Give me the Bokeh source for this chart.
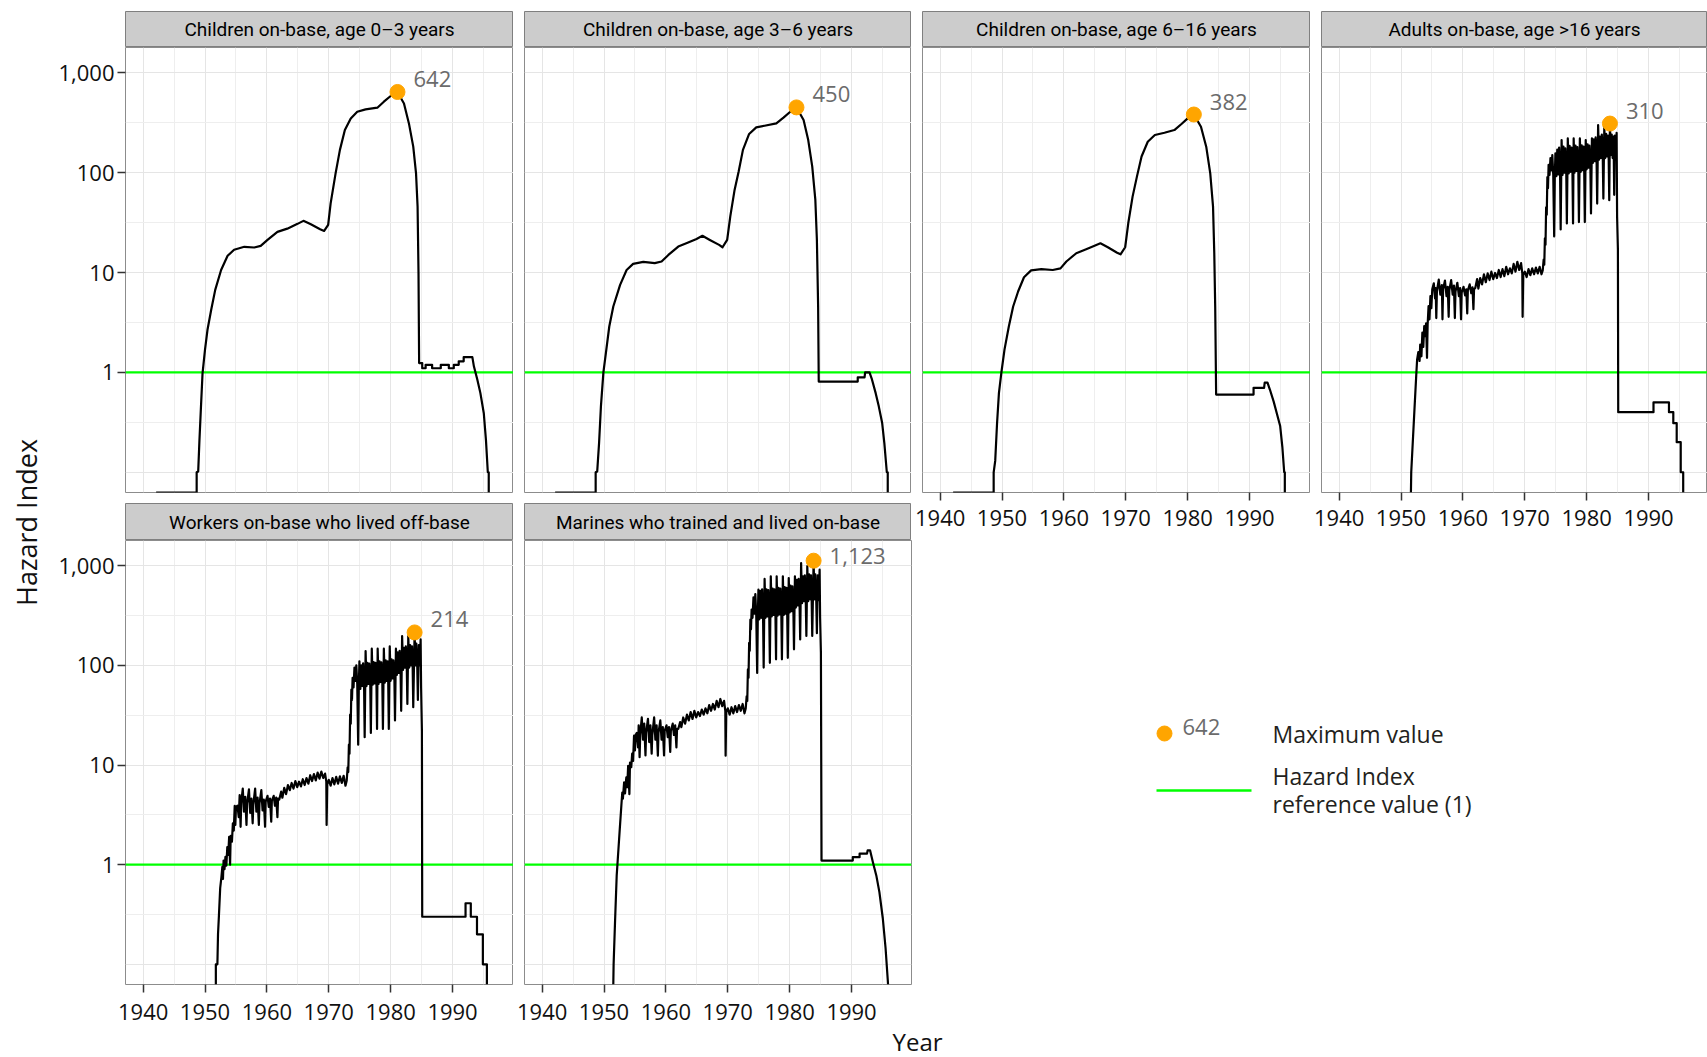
import math
from bokeh.plotting import figure
from bokeh.models import (Range1d, FixedTicker, Grid, LinearAxis, LogAxis,
                          NumeralTickFormatter, Span, Title)
from bokeh.layouts import row, column
from bokeh.core.properties import value
from bokeh.embed import file_html
from bokeh.resources import INLINE

# ------------------------------------------------------------------ data
PANEL_TITLES = [
    "Children on-base, age 0\u20133 years",
    "Children on-base, age 3\u20136 years",
    "Children on-base, age 6\u201316 years",
    "Adults on-base, age >16 years",
    "Workers on-base who lived off-base",
    "Marines who trained and lived on-base",
]
X_TICKS = [1940, 1950, 1960, 1970, 1980, 1990]
X_MINOR = [1945, 1955, 1965, 1975, 1985, 1995]
Y_TICKS = [1, 10, 100, 1000]
Y_GRID_MAJOR = [0.1, 1, 10, 100, 1000]
Y_GRID_MINOR = [0.316, 3.16, 31.6, 316]
REF_VALUE = 1

MAX_YEARS = [1981.1, 1981.1, 1981.0, 1983.76, 1983.87, 1983.87]
MAX_VALUES = [642, 450, 382, 310, 214, 1123]
MAX_LABELS = ["642", "450", "382", "310", "214", "1,123"]

# (year, hazard index); 0 = below the scale (drawn on the lower edge)
CHILD_0_3 = [
    (1942.1, 0), (1948.65, 0), (1948.65, 0.10), (1948.9, 0.102), (1949.1, 0.21),
    (1949.35, 0.46), (1949.6, 0.98), (1950.0, 1.69), (1950.4, 2.67), (1951.0, 4.24),
    (1951.65, 6.7), (1952.6, 10.6), (1953.65, 14.7), (1954.7, 16.9), (1956.35, 18.1),
    (1957.95, 17.8), (1959.0, 18.5), (1960.1, 21.2), (1961.7, 25.5), (1963.3, 27.5),
    (1964.95, 30.7), (1965.9, 32.9), (1967.1, 30.4), (1968.6, 27.1), (1969.25, 26.1),
    (1969.9, 30.0), (1970.3, 49.3), (1971.1, 98.4), (1971.8, 169), (1972.6, 267),
    (1973.55, 349), (1974.6, 407), (1975.95, 430), (1977.85, 447), (1978.9, 513),
    (1980.0, 585), (1981.1, 642), (1982.15, 493), (1982.95, 311), (1983.65, 182),
    (1984.1, 98.4), (1984.35, 45.7), (1984.5, 9.8), (1984.6, 1.24), (1985.1, 1.24),
    (1985.1, 1.10), (1985.65, 1.10), (1985.65, 1.19), (1986.7, 1.19), (1986.7, 1.10),
    (1988.1, 1.10), (1988.1, 1.19), (1989.4, 1.19), (1989.4, 1.10), (1990.2, 1.10),
    (1990.2, 1.19), (1991.0, 1.19), (1991.0, 1.29), (1991.8, 1.29), (1991.8, 1.42),
    (1993.2, 1.42), (1993.45, 1.15), (1994.0, 0.85), (1994.5, 0.62), (1995.05, 0.39),
    (1995.4, 0.21), (1995.7, 0.10), (1995.85, 0.10), (1995.85, 0),
]
CHILD_3_6 = [
    (1942.1, 0), (1948.65, 0), (1948.65, 0.10), (1948.9, 0.102), (1949.2, 0.196),
    (1949.5, 0.457), (1949.9, 1.0), (1950.3, 1.56), (1950.85, 2.88), (1951.5, 4.57),
    (1952.6, 7.53), (1953.65, 10.6), (1954.7, 12.2), (1956.35, 12.8), (1958.2, 12.4),
    (1959.3, 12.9), (1960.4, 15.0), (1962.0, 18.2), (1963.6, 20.0), (1964.95, 21.7),
    (1965.9, 23.3), (1967.1, 21.2), (1968.6, 18.9), (1969.15, 17.9), (1969.9, 21.2),
    (1970.4, 36.3), (1971.1, 67.1), (1971.75, 102), (1972.45, 169), (1973.45, 244),
    (1974.6, 284), (1975.95, 295), (1977.85, 311), (1979.0, 355), (1980.1, 407),
    (1981.1, 450), (1982.25, 337), (1983.0, 212), (1983.65, 115), (1984.15, 53.3),
    (1984.4, 21.2), (1984.6, 4.57), (1984.7, 0.81), (1991.0, 0.81), (1991.0, 0.89),
    (1992.1, 0.89), (1992.2, 1.0), (1992.9, 1.0), (1993.3, 0.85), (1993.9, 0.62),
    (1994.4, 0.457), (1994.95, 0.311), (1995.3, 0.196), (1995.7, 0.10), (1995.85, 0.10),
    (1995.85, 0),
]
CHILD_6_16 = [
    (1942.1, 0), (1948.65, 0), (1948.65, 0.10), (1948.9, 0.13), (1949.2, 0.311),
    (1949.5, 0.621), (1949.9, 1.0), (1950.4, 1.69), (1951.1, 2.88), (1951.8, 4.57),
    (1952.6, 6.46), (1953.55, 8.97), (1954.7, 10.5), (1956.35, 10.8), (1958.2, 10.6),
    (1959.45, 11.0), (1960.4, 12.9), (1962.0, 15.6), (1963.6, 17.1), (1964.95, 18.5),
    (1965.9, 19.6), (1967.1, 17.9), (1968.6, 15.8), (1969.15, 15.2), (1969.9, 17.9),
    (1970.4, 31.1), (1971.1, 57.5), (1971.8, 91.2), (1972.55, 145), (1973.55, 204),
    (1974.7, 238), (1976.25, 251), (1977.85, 267), (1979.0, 307), (1980.0, 349),
    (1981.0, 382), (1982.15, 288), (1983.0, 182), (1983.65, 98.4), (1984.1, 45.7),
    (1984.3, 15.6), (1984.45, 4.57), (1984.6, 0.60), (1990.65, 0.60), (1990.65, 0.70),
    (1992.35, 0.70), (1992.45, 0.79), (1992.9, 0.79), (1993.3, 0.67), (1993.9, 0.51),
    (1994.4, 0.39), (1994.95, 0.29), (1995.3, 0.18), (1995.6, 0.10), (1995.7, 0.10),
    (1995.7, 0),
]
ADULTS = [
    (1951.6, 0), (1951.65, 0.10), (1951.9, 0.20), (1952.2, 0.46), (1952.45, 0.91),
    (1952.6, 1.34), (1952.8, 1.6), (1953.0, 1.3), (1953.1, 1.9), (1953.3, 1.45),
    (1953.45, 2.5), (1953.6, 1.8), (1953.75, 2.9), (1953.9, 2.3), (1954.05, 3.1),
    (1954.2, 1.4), (1954.3, 3.0), (1954.45, 4.6), (1954.6, 3.4), (1954.75, 5.8),
    (1954.9, 4.4), (1955.05, 6.8),
    (1955.3, 7.8), (1955.5, 5.5), (1955.6, 7.0), (1955.7, 3.5), (1955.8, 6.5),
    (1956.1, 8.5), (1956.35, 6.0), (1956.6, 7.5), (1956.7, 3.4), (1956.8, 6.8),
    (1957.1, 8.3), (1957.35, 5.8), (1957.55, 7.2), (1957.7, 3.6), (1957.8, 6.6),
    (1958.1, 8.4), (1958.35, 6.0), (1958.55, 7.4), (1958.7, 3.5), (1958.8, 6.4),
    (1959.1, 7.9), (1959.35, 5.8), (1959.55, 7.0), (1959.7, 3.4), (1959.8, 6.3),
    (1960.1, 7.2), (1960.35, 5.9), (1960.55, 6.8), (1960.7, 3.9), (1960.8, 6.6),
    (1961.1, 7.6), (1961.35, 6.2), (1961.55, 7.1), (1961.7, 4.3), (1961.8, 6.8),
    (1962.0, 7.0), (1962.3, 8.6), (1962.5, 6.9), (1962.8, 8.8), (1963.1, 7.6),
    (1963.4, 9.6), (1963.7, 8.0), (1964.0, 9.8), (1964.3, 8.4), (1964.6, 10.2),
    (1964.9, 8.6), (1965.2, 9.9), (1965.5, 8.8), (1965.8, 10.6), (1966.1, 9.0),
    (1966.4, 10.8), (1966.7, 9.2), (1967.0, 11.4), (1967.3, 9.6), (1967.6, 11.0),
    (1967.9, 9.8), (1968.2, 12.2), (1968.5, 10.2), (1968.8, 12.8), (1969.1, 10.6),
    (1969.4, 12.4), (1969.6, 9.8), (1969.65, 3.6), (1969.75, 9.5), (1970.0, 10.2),
    (1970.3, 9.0), (1970.6, 10.8), (1970.9, 9.4), (1971.2, 11.0), (1971.5, 9.6),
    (1971.8, 11.2), (1972.1, 9.8), (1972.4, 11.4), (1972.7, 9.6), (1972.9, 10.5),
    (1973.05, 13.5), (1973.15, 12.0), (1973.25, 22), (1973.35, 19), (1973.45, 45),
    (1973.55, 38), (1973.65, 90), (1973.75, 70), (1973.85, 120), (1974.0, 95),
    (1974.15, 140), (1974.3, 105), (1974.45, 150), (1974.6, 95), (1974.75, 23),
    (1974.85, 90), (1974.95, 156),
    (1975.1, 92), (1975.25, 170), (1975.4, 96), (1975.55, 178), (1975.7, 100), (1975.8, 27), (1975.95, 212),
    (1976.1, 95), (1976.25, 182), (1976.4, 100), (1976.55, 175), (1976.7, 104), (1976.8, 31), (1976.95, 220),
    (1977.1, 98), (1977.25, 185), (1977.4, 102), (1977.55, 178), (1977.7, 105), (1977.8, 31), (1977.9, 220),
    (1978.05, 100), (1978.2, 186), (1978.35, 104), (1978.5, 180), (1978.65, 108), (1978.75, 32), (1978.9, 220),
    (1979.05, 102), (1979.2, 188), (1979.35, 106), (1979.5, 182), (1979.6, 110), (1979.7, 32), (1979.85, 212),
    (1980.0, 108), (1980.15, 192), (1980.3, 112), (1980.45, 186), (1980.6, 116), (1980.7, 39), (1980.85, 220),
    (1981.0, 125), (1981.15, 215), (1981.3, 130), (1981.45, 225), (1981.6, 135), (1981.7, 49), (1981.85, 300),
    (1982.0, 135), (1982.15, 230), (1982.3, 140), (1982.45, 240), (1982.6, 145), (1982.7, 55), (1982.85, 290),
    (1983.0, 140), (1983.15, 245), (1983.3, 145), (1983.45, 235), (1983.55, 150), (1983.65, 53), (1983.76, 310),
    (1983.9, 150), (1984.05, 240), (1984.2, 140), (1984.35, 230), (1984.45, 60), (1984.55, 235),
    (1984.7, 150), (1984.84, 250), (1984.92, 36), (1985.05, 17), (1985.1, 0.40),
    (1990.8, 0.40), (1990.8, 0.50), (1993.3, 0.50), (1993.3, 0.40), (1994.0, 0.40),
    (1994.0, 0.31), (1994.55, 0.31), (1994.55, 0.20), (1995.2, 0.20), (1995.2, 0.10),
    (1995.6, 0.10), (1995.6, 0),
]
WORKERS = [
    (1951.75, 0), (1951.75, 0.10), (1952.0, 0.10), (1952.1, 0.20), (1952.25, 0.31),
    (1952.45, 0.58), (1952.65, 0.75), (1952.8, 0.95), (1952.9, 0.72), (1953.0, 1.1),
    (1953.15, 0.9), (1953.3, 1.2), (1953.45, 0.98), (1953.6, 1.5), (1953.75, 1.25),
    (1953.9, 1.9), (1954.05, 1.0), (1954.15, 1.95), (1954.35, 1.7), (1954.5, 2.6),
    (1954.65, 2.2), (1954.8, 3.9), (1954.9, 2.5), (1955.0, 3.8),
    (1955.25, 3.9), (1955.45, 3.0), (1955.6, 5.0), (1955.75, 2.4), (1955.85, 4.2),
    (1956.1, 5.8), (1956.3, 3.4), (1956.5, 4.8), (1956.7, 2.5), (1956.8, 4.1),
    (1957.1, 5.7), (1957.3, 3.3), (1957.5, 4.6), (1957.7, 2.6), (1957.8, 4.0),
    (1958.1, 5.8), (1958.3, 3.4), (1958.5, 4.7), (1958.7, 2.5), (1958.8, 4.1),
    (1959.1, 5.6), (1959.3, 3.5), (1959.5, 4.5), (1959.7, 2.4), (1959.8, 4.3),
    (1960.1, 4.9), (1960.3, 3.8), (1960.5, 4.6), (1960.7, 2.7), (1960.8, 4.4),
    (1961.1, 4.9), (1961.3, 3.9), (1961.5, 4.7), (1961.7, 3.0), (1961.8, 4.6),
    (1962.0, 4.5), (1962.3, 5.4), (1962.5, 4.7), (1962.8, 5.9), (1963.1, 5.1),
    (1963.4, 6.3), (1963.7, 5.6), (1964.0, 6.6), (1964.3, 5.8), (1964.6, 6.9),
    (1964.9, 6.0), (1965.2, 6.8), (1965.5, 6.1), (1965.8, 7.2), (1966.1, 6.3),
    (1966.4, 7.4), (1966.7, 6.5), (1967.0, 7.9), (1967.3, 6.9), (1967.6, 8.1),
    (1967.9, 7.0), (1968.2, 8.4), (1968.5, 7.3), (1968.8, 8.6), (1969.1, 7.4),
    (1969.4, 8.2), (1969.6, 6.8), (1969.65, 2.5), (1969.75, 6.4), (1970.0, 7.1),
    (1970.3, 6.2), (1970.6, 7.4), (1970.9, 6.4), (1971.2, 7.6), (1971.5, 6.5),
    (1971.8, 7.7), (1972.1, 6.6), (1972.4, 7.8), (1972.7, 6.2), (1972.9, 7.0),
    (1973.05, 9.5), (1973.15, 8.5), (1973.25, 16), (1973.35, 13), (1973.45, 32),
    (1973.55, 26), (1973.65, 57), (1973.75, 45), (1973.85, 75), (1974.0, 60),
    (1974.15, 95), (1974.3, 70), (1974.45, 100), (1974.6, 65), (1974.75, 16),
    (1974.85, 60), (1974.95, 110),
    (1975.1, 58), (1975.25, 100), (1975.4, 62), (1975.55, 105), (1975.7, 64), (1975.8, 19), (1975.95, 139),
    (1976.1, 62), (1976.25, 106), (1976.4, 65), (1976.55, 104), (1976.7, 66), (1976.8, 21), (1976.95, 147),
    (1977.1, 64), (1977.25, 108), (1977.4, 66), (1977.55, 106), (1977.7, 68), (1977.8, 23), (1977.9, 147),
    (1978.05, 65), (1978.2, 110), (1978.35, 68), (1978.5, 107), (1978.65, 70), (1978.75, 23), (1978.9, 147),
    (1979.05, 67), (1979.2, 112), (1979.35, 70), (1979.5, 110), (1979.6, 72), (1979.7, 23), (1979.85, 155),
    (1980.0, 70), (1980.15, 115), (1980.3, 74), (1980.45, 112), (1980.6, 76), (1980.7, 28), (1980.85, 147),
    (1981.0, 80), (1981.15, 135), (1981.3, 84), (1981.45, 140), (1981.6, 88), (1981.7, 35), (1981.85, 197),
    (1982.0, 90), (1982.15, 150), (1982.3, 95), (1982.45, 155), (1982.6, 98), (1982.7, 41), (1982.85, 197),
    (1983.0, 95), (1983.15, 160), (1983.3, 100), (1983.45, 155), (1983.55, 102), (1983.65, 38), (1983.87, 214),
    (1984.0, 100), (1984.15, 165), (1984.3, 95), (1984.4, 45), (1984.55, 160), (1984.7, 100),
    (1984.84, 182), (1984.92, 60), (1985.05, 22), (1985.1, 0.30),
    (1992.1, 0.30), (1992.1, 0.41), (1992.95, 0.41), (1992.95, 0.30), (1993.95, 0.30),
    (1993.95, 0.20), (1994.9, 0.20), (1994.9, 0.10), (1995.55, 0.10), (1995.55, 0),
]
MARINES = [
    (1951.5, 0), (1951.55, 0.10), (1951.8, 0.29), (1952.05, 0.78), (1952.3, 1.34),
    (1952.55, 2.3), (1952.8, 3.9), (1952.95, 5.3), (1953.05, 4.6), (1953.25, 6.7),
    (1953.4, 5.2), (1953.6, 7.5), (1953.75, 6.0), (1953.9, 9.8), (1954.1, 5.1),
    (1954.2, 10.6), (1954.4, 9.5), (1954.55, 13), (1954.7, 11), (1954.85, 19.7),
    (1955.0, 14), (1955.1, 20),
    (1955.3, 21), (1955.5, 15), (1955.6, 25), (1955.75, 12), (1955.85, 20),
    (1956.1, 30), (1956.3, 18), (1956.5, 26), (1956.7, 12.5), (1956.8, 21),
    (1957.1, 29), (1957.3, 17), (1957.5, 25), (1957.7, 13), (1957.8, 20),
    (1958.1, 30), (1958.3, 18), (1958.5, 25), (1958.7, 12.4), (1958.8, 21),
    (1959.1, 28), (1959.3, 18), (1959.5, 24), (1959.7, 12.5), (1959.8, 22),
    (1960.1, 25), (1960.3, 19), (1960.5, 24), (1960.7, 13.5), (1960.8, 22),
    (1961.1, 26), (1961.3, 20), (1961.5, 25), (1961.7, 15), (1961.8, 23),
    (1962.0, 23), (1962.3, 27), (1962.5, 24), (1962.8, 30), (1963.1, 26),
    (1963.4, 32), (1963.7, 28), (1964.0, 34), (1964.3, 29), (1964.6, 35),
    (1964.9, 30), (1965.2, 34), (1965.5, 31), (1965.8, 36), (1966.1, 32),
    (1966.4, 37), (1966.7, 33), (1967.0, 40), (1967.3, 35), (1967.6, 41),
    (1967.9, 36), (1968.2, 44), (1968.5, 38), (1968.8, 46), (1969.1, 39),
    (1969.4, 44), (1969.6, 35), (1969.65, 12.4), (1969.75, 34), (1970.0, 37),
    (1970.3, 32), (1970.6, 38), (1970.9, 33), (1971.2, 39), (1971.5, 34),
    (1971.8, 40), (1972.1, 35), (1972.4, 41), (1972.7, 33), (1972.9, 37),
    (1973.05, 49), (1973.15, 44), (1973.25, 91), (1973.35, 75), (1973.45, 168),
    (1973.55, 140), (1973.65, 288), (1973.75, 230), (1973.85, 363), (1974.0, 300),
    (1974.15, 480), (1974.3, 330), (1974.45, 520), (1974.6, 320), (1974.75, 84),
    (1974.85, 300), (1974.95, 575),
    (1975.1, 290), (1975.25, 560), (1975.4, 300), (1975.55, 580), (1975.7, 310), (1975.8, 95), (1975.95, 736),
    (1976.1, 300), (1976.25, 580), (1976.4, 310), (1976.55, 570), (1976.7, 320), (1976.8, 106), (1976.95, 782),
    (1977.1, 310), (1977.25, 590), (1977.4, 320), (1977.55, 580), (1977.7, 330), (1977.8, 115), (1977.9, 782),
    (1978.05, 315), (1978.2, 600), (1978.35, 325), (1978.5, 590), (1978.65, 335), (1978.75, 115), (1978.9, 782),
    (1979.05, 320), (1979.2, 610), (1979.35, 330), (1979.5, 600), (1979.6, 340), (1979.7, 119), (1979.85, 753),
    (1980.0, 340), (1980.15, 630), (1980.3, 350), (1980.45, 620), (1980.6, 360), (1980.7, 145), (1980.85, 782),
    (1981.0, 380), (1981.15, 720), (1981.3, 400), (1981.45, 740), (1981.6, 410), (1981.7, 182), (1981.85, 1063),
    (1982.0, 420), (1982.15, 780), (1982.3, 440), (1982.45, 800), (1982.6, 450), (1982.7, 197), (1982.85, 990),
    (1983.0, 440), (1983.15, 820), (1983.3, 460), (1983.45, 800), (1983.55, 470), (1983.65, 197), (1983.87, 1123),
    (1984.0, 460), (1984.15, 820), (1984.3, 440), (1984.4, 210), (1984.55, 800), (1984.7, 450),
    (1984.84, 912), (1984.92, 300), (1985.05, 134), (1985.15, 1.10),
    (1990.2, 1.10), (1990.2, 1.19), (1991.3, 1.19), (1991.3, 1.29), (1992.5, 1.29),
    (1992.6, 1.39), (1993.0, 1.39), (1993.45, 1.06), (1994.0, 0.78), (1994.5, 0.53),
    (1995.05, 0.29), (1995.5, 0.145), (1995.85, 0.07), (1995.9, 0),
]
SERIES = [CHILD_0_3, CHILD_3_6, CHILD_6_16, ADULTS, WORKERS, MARINES]

# ------------------------------------------------------------------ styling / layout
X_START, X_END = 1937.15, 1999.85
LOG_LO, LOG_HI = -1.2025, 3.2529
Y_MIN, Y_MAX = 10 ** LOG_LO, 10 ** LOG_HI
REF_FRAME_W = 388
FONT = "Open Sans"
STRIP_FONT = "Roboto"
BORDER_COL = "#8c8c8c"
GRID_MAJOR_COL = "#e5e5e5"
GRID_MINOR_COL = "#eeeeee"

TOTAL_W = 1707
TOTAL_H = 1057
YLAB_W = 50
LEFT_FIRST = 75
GAP = 11
FRAME_W = [388, 387, 388, 386]
TOP_MARGIN = 11
STRIP_H = 36
STRIP2_H = 37
FRAME_H_TOP = 445
FRAME_H_BOT = 444
BOT_PAD_TOP = 11
AXIS_BORDER_TOP = 48
P6_RIGHT = 40          # extra canvas right of panel 6 (holds part of the x title)
LABEL_DY = [-12.5, -13, -13, -13, -13, -4.5]

TOP_BAND_H = TOP_MARGIN + STRIP_H + FRAME_H_TOP + BOT_PAD_TOP + STRIP2_H   # 540
BOT_BAND_H = TOTAL_H - TOP_BAND_H                                          # 517
AXIS_BORDER_BOT = BOT_BAND_H - FRAME_H_BOT                                 # 73

XTITLE_X = 917         # page x of the centre of "Year"
XTITLE_HALF_W = 25     # half the width of "Year" at 24px


def drop_auto_grids(fig):
    fig.center = [r for r in fig.center if not isinstance(r, Grid)]


def bare_figure(w, h, xr, yr):
    f = figure(width=w, height=h, x_range=xr, y_range=yr,
               x_axis_location=None, y_axis_location=None,
               output_backend="svg", toolbar_location=None)
    drop_auto_grids(f)
    f.min_border = 0
    f.outline_line_color = None
    f.border_fill_color = "white"
    return f


def style_axis(ax, standoff):
    ax.axis_line_color = None
    ax.major_tick_line_color = "#333333"
    ax.major_tick_line_width = 1.5
    ax.major_tick_out = 8
    ax.major_tick_in = 0
    ax.minor_tick_line_color = None
    ax.major_label_text_font = FONT
    ax.major_label_text_font_size = "22px"
    ax.major_label_text_color = "#111111"
    ax.major_label_standoff = standoff


def make_strip(title, frame_w, left, top, h):
    s = bare_figure(left + frame_w, h + top, Range1d(0, 1), Range1d(0, 1))
    s.min_border_left = left
    s.min_border_top = top
    s.background_fill_color = "#cccccc"
    s.outline_line_color = "#7f7f7f"
    s.outline_line_width = 1
    s.text([0.5], [0.5], [title], text_align="center", text_baseline="middle",
           text_font=value(STRIP_FONT), text_font_size="19px", text_color="#000000")
    return s


def make_panel(i, frame_w, left, frame_h, bottom, show_x, show_y, x_standoff=5, right=0):
    px_per_year = REF_FRAME_W / (X_END - X_START)
    x_end = X_START + frame_w / px_per_year
    p = figure(width=left + frame_w + right, height=frame_h + bottom,
               x_range=Range1d(X_START, x_end), y_range=Range1d(Y_MIN, Y_MAX),
               y_axis_type="log", x_axis_location=None, y_axis_location=None,
               output_backend="svg", toolbar_location=None)
    drop_auto_grids(p)
    p.min_border_left = left
    p.min_border_right = right
    p.min_border_top = 0
    p.min_border_bottom = bottom
    p.background_fill_color = "white"
    p.border_fill_color = "white"
    p.outline_line_color = BORDER_COL
    p.outline_line_width = 1

    xg = Grid(dimension=0, ticker=FixedTicker(ticks=X_TICKS, minor_ticks=X_MINOR))
    xg.grid_line_color = GRID_MAJOR_COL
    xg.minor_grid_line_color = GRID_MINOR_COL
    yg = Grid(dimension=1, ticker=FixedTicker(ticks=Y_GRID_MAJOR, minor_ticks=Y_GRID_MINOR))
    yg.grid_line_color = GRID_MAJOR_COL
    yg.minor_grid_line_color = GRID_MINOR_COL
    p.add_layout(xg)
    p.add_layout(yg)

    p.add_layout(Span(location=REF_VALUE, dimension="width", line_color="#00ff00",
                      line_width=2.4, level="underlay"))

    pts = SERIES[i]
    xs = [a for a, b in pts]
    ys = [b if b > 0 else Y_MIN for a, b in pts]
    p.line(xs, ys, line_color="black", line_width=2.2, line_join="round")

    p.scatter([MAX_YEARS[i]], [MAX_VALUES[i]], size=15, color="#ffa500")
    p.text([MAX_YEARS[i]], [MAX_VALUES[i]], [MAX_LABELS[i]], x_offset=16, y_offset=LABEL_DY[i],
           text_align="left", text_baseline="middle", text_font=value(FONT),
           text_font_size="22px", text_color="#6b6b6b")

    if show_x:
        ax = LinearAxis(ticker=FixedTicker(ticks=X_TICKS))
        style_axis(ax, x_standoff)
        p.add_layout(ax, "below")
    if show_y:
        ay = LogAxis(ticker=FixedTicker(ticks=Y_TICKS),
                     formatter=NumeralTickFormatter(format="0,0"))
        style_axis(ay, 3)
        p.add_layout(ay, "left")
    return p


lefts = [LEFT_FIRST, GAP, GAP, GAP]

# ---- top band (y 0 .. 540)
strips_top = [make_strip(PANEL_TITLES[k], FRAME_W[k], lefts[k], TOP_MARGIN, STRIP_H) for k in range(4)]
p1 = make_panel(0, FRAME_W[0], lefts[0], FRAME_H_TOP, BOT_PAD_TOP, False, True)
p2 = make_panel(1, FRAME_W[1], lefts[1], FRAME_H_TOP, BOT_PAD_TOP, False, False)
p3 = make_panel(2, FRAME_W[2], lefts[2], FRAME_H_TOP, AXIS_BORDER_TOP, True, False, 9)
p4 = make_panel(3, FRAME_W[3], lefts[3], FRAME_H_TOP, AXIS_BORDER_TOP, True, False, 9)
s5 = make_strip(PANEL_TITLES[4], FRAME_W[0], lefts[0], 0, STRIP2_H)
s6 = make_strip(PANEL_TITLES[5], FRAME_W[1], lefts[1], 0, STRIP2_H)

# ---- bottom band (y 540 .. 1057)
p5 = make_panel(4, FRAME_W[0], lefts[0], FRAME_H_BOT, AXIS_BORDER_BOT, True, True, 11)
p6 = make_panel(5, FRAME_W[1], lefts[1], FRAME_H_BOT, AXIS_BORDER_BOT, True, False, 11, P6_RIGHT)

# x title "Year": a title below panel 6, shifted right to the centre of the whole panel grid
p6_frame_left = YLAB_W + lefts[0] + FRAME_W[0] + lefts[1]
p6.add_layout(Title(text="Year", align="left",
                    offset=XTITLE_X - XTITLE_HALF_W - p6_frame_left,
                    standoff=0, text_font=FONT, text_font_size="24px",
                    text_font_style="normal", text_color="#111111"), "below")

# legend (right of panel 6); its frame is aligned with the panel frames of the row
leg_x0 = YLAB_W + lefts[0] + FRAME_W[0] + lefts[1] + FRAME_W[1] + P6_RIGHT
leg_w = TOTAL_W - leg_x0
leg = bare_figure(leg_w, BOT_BAND_H, Range1d(leg_x0, TOTAL_W),
                  Range1d(TOP_BAND_H + FRAME_H_BOT, TOP_BAND_H))
leg.min_border_bottom = AXIS_BORDER_BOT
leg.scatter([1164], [733], size=15, color="#ffa500")
leg.text([1182], [726], [MAX_LABELS[0]], text_align="left", text_baseline="middle",
         text_font=value(FONT), text_font_size="22px", text_color="#6b6b6b")
leg.text([1272], [733], ["Maximum value"], text_align="left", text_baseline="middle",
         text_font=value(FONT), text_font_size="23px", text_color="#231f20")
leg.line([1156, 1251], [790, 790], line_color="#00ff00", line_width=2.4)
leg.text([1272, 1272], [775, 803], ["Hazard Index", "reference value (1)"],
         text_align="left", text_baseline="middle", text_font=value(FONT),
         text_font_size="23px", text_color="#231f20")

# y axis title
yl = bare_figure(YLAB_W, TOTAL_H, Range1d(0, YLAB_W), Range1d(TOTAL_H, 0))
yl.text([26], [522], ["Hazard Index"], angle=math.pi / 2, text_align="center",
        text_baseline="middle", text_font=value(FONT), text_font_size="27px", text_color="#111111")

top_band = row(column(strips_top[0], p1, s5), column(strips_top[1], p2, s6),
               column(strips_top[2], p3), column(strips_top[3], p4))
bottom_band = row(p5, p6, leg)
page = row(yl, column(top_band, bottom_band))

open("out.html", "w").write(file_html(page, INLINE, title="Hazard Index"))
